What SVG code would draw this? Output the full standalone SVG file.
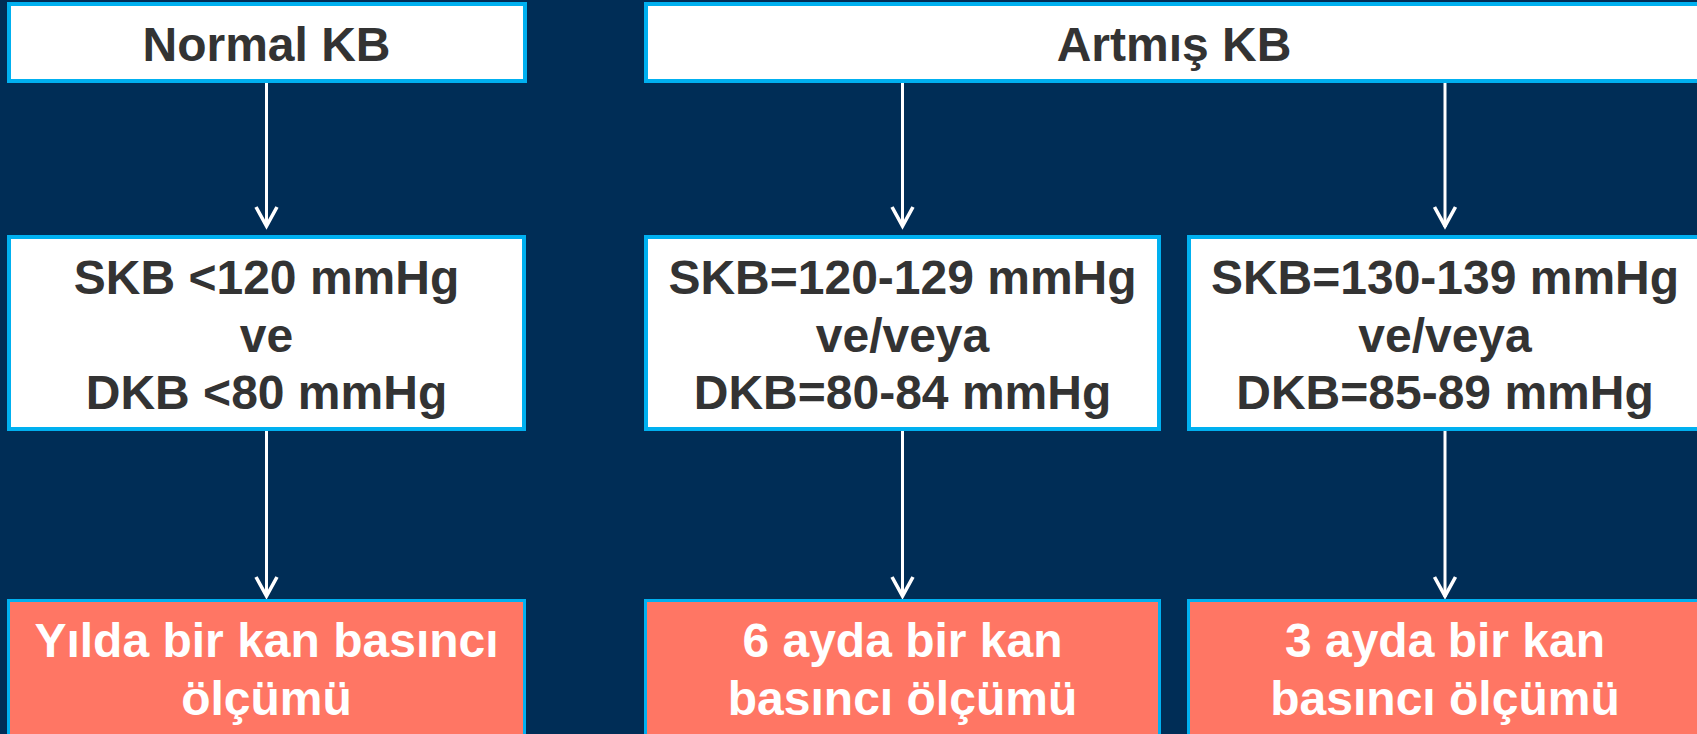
<svg xmlns="http://www.w3.org/2000/svg" width="1697" height="734" viewBox="0 0 1697 734">
<style>
.bg{fill:#002D56}
.wbox{fill:#FFFFFF;stroke:#00B0F0;stroke-width:4}
.rbox{fill:#FF7664;stroke:#00B0F0;stroke-width:3}
.t{font-family:"Liberation Sans",Arial,sans-serif;font-weight:bold;font-size:48px;text-anchor:middle}
.dk{fill:#333333}
.wt{fill:#FFFFFF}
.conn{stroke:#FFFFFF;stroke-width:3;fill:none}
</style>
<defs>
<marker id="ah" viewBox="-24 -14 27 28" markerWidth="27" markerHeight="28" refX="0" refY="0" orient="auto" markerUnits="userSpaceOnUse">
<path d="M-20,-10.5 L-1,0 L-20,10.5" fill="none" stroke="#FFFFFF" stroke-width="3.6"/>
</marker>
</defs>
<rect class="bg" x="0" y="0" width="1697" height="734"/>

<g id="connectors">
<line class="conn" x1="266.5" y1="83" x2="266.5" y2="227" marker-end="url(#ah)"/>
<line class="conn" x1="902.5" y1="83" x2="902.5" y2="227" marker-end="url(#ah)"/>
<line class="conn" x1="1445" y1="83" x2="1445" y2="227" marker-end="url(#ah)"/>
<line class="conn" x1="266.5" y1="431" x2="266.5" y2="597" marker-end="url(#ah)"/>
<line class="conn" x1="902.5" y1="431" x2="902.5" y2="597" marker-end="url(#ah)"/>
<line class="conn" x1="1445" y1="431" x2="1445" y2="597" marker-end="url(#ah)"/>
</g>

<g id="normal-kb">
<rect class="wbox" x="9" y="4" width="516" height="77"/>
<text class="t dk" x="266.5" y="61">Normal KB</text>
</g>

<g id="artmis-kb">
<rect class="wbox" x="646" y="4" width="1058" height="77"/>
<text class="t dk" x="1174" y="61">Artmış KB</text>
</g>

<g id="normal-range">
<rect class="wbox" x="9" y="237" width="515" height="192"/>
<text class="t dk" x="266.5" y="294">SKB &lt;120 mmHg</text>
<text class="t dk" x="266.5" y="352">ve</text>
<text class="t dk" x="266.5" y="409">DKB &lt;80 mmHg</text>
</g>

<g id="range-120">
<rect class="wbox" x="646" y="237" width="513" height="192"/>
<text class="t dk" x="902.5" y="294">SKB=120-129 mmHg</text>
<text class="t dk" x="902.5" y="352">ve/veya</text>
<text class="t dk" x="902.5" y="409">DKB=80-84 mmHg</text>
</g>

<g id="range-130">
<rect class="wbox" x="1189" y="237" width="513" height="192"/>
<text class="t dk" x="1445" y="294">SKB=130-139 mmHg</text>
<text class="t dk" x="1445" y="352">ve/veya</text>
<text class="t dk" x="1445" y="409">DKB=85-89 mmHg</text>
</g>

<g id="yearly">
<rect class="rbox" x="8.5" y="600.5" width="516" height="150"/>
<text class="t wt" x="266.5" y="657">Yılda bir kan basıncı</text>
<text class="t wt" x="266.5" y="715">ölçümü</text>
</g>

<g id="six-months">
<rect class="rbox" x="645.5" y="600.5" width="514" height="150"/>
<text class="t wt" x="902.5" y="657">6 ayda bir kan</text>
<text class="t wt" x="902.5" y="715">basıncı ölçümü</text>
</g>

<g id="three-months">
<rect class="rbox" x="1188.5" y="600.5" width="514" height="150"/>
<text class="t wt" x="1445" y="657">3 ayda bir kan</text>
<text class="t wt" x="1445" y="715">basıncı ölçümü</text>
</g>
</svg>
